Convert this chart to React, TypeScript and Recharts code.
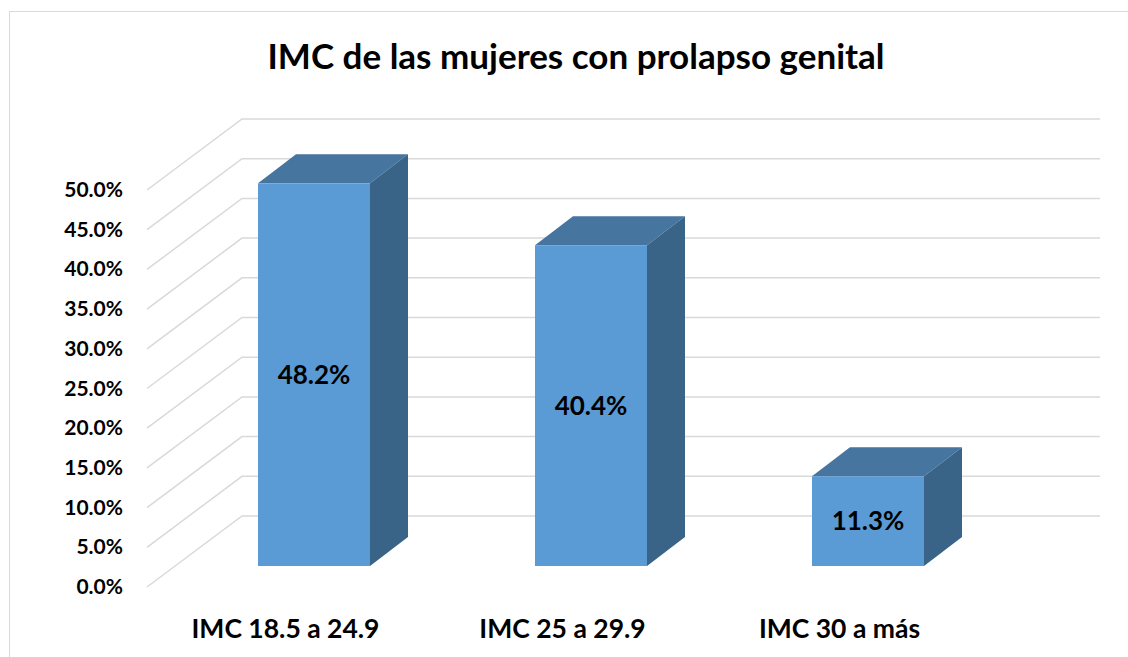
import { BarChart, Bar, XAxis, YAxis, CartesianGrid, LabelList } from "recharts";

const categories = ["IMC 18.5 a 24.9", "IMC 25 a 29.9", "IMC 30 a más"];
const values = [0.482, 0.404, 0.113];
const yTicks = [0, 0.05, 0.1, 0.15, 0.2, 0.25, 0.3, 0.35, 0.4, 0.45, 0.5];

const data = categories.map((name, i) => ({ name, value: values[i] }));

const FONT = "Lato, 'Open Sans', sans-serif";
// depth of the back wall and of the bars (px)
const WALL_DX = 95;
const WALL_DY = 71;
const BAR_OFF_X = 28;
const BAR_OFF_Y = 21;
const BAR_DX = 38;
const BAR_DY = 29;

const pct = (v: number) => (v * 100).toFixed(1) + "%";

function Box3D(props: any) {
  const { x, y, width, height } = props;
  const fx = x + BAR_OFF_X;
  const fy = y - BAR_OFF_Y;
  const w = width;
  const h = height;
  return (
    <g>
      <polygon
        points={`${fx},${fy} ${fx + BAR_DX},${fy - BAR_DY} ${fx + w + BAR_DX},${fy - BAR_DY} ${fx + w},${fy}`}
        fill="#4675A0"
      />
      <polygon
        points={`${fx + w},${fy} ${fx + w + BAR_DX},${fy - BAR_DY} ${fx + w + BAR_DX},${fy + h - BAR_DY} ${fx + w},${fy + h}`}
        fill="#3A6487"
      />
      <rect x={fx} y={fy} width={w} height={h} fill="#5B9BD5" />
    </g>
  );
}

function GridLine(props: any) {
  const { x1, y1, x2 } = props;
  return (
    <path
      key={props.key}
      d={`M${x1},${y1} L${x1 + WALL_DX},${y1 - WALL_DY} L${x2 + 122},${y1 - WALL_DY}`}
      stroke="#d9d9d9"
      strokeWidth={1.5}
      fill="none"
    />
  );
}

function YTick(props: any) {
  const { y, payload } = props;
  return (
    <text x={123} y={y + 7} textAnchor="end" fontFamily={FONT} fontWeight={700} fontSize={21} fill="#000">
      {pct(payload.value)}
    </text>
  );
}

function XTick(props: any) {
  const { x, payload } = props;
  return (
    <text x={x} y={638} textAnchor="middle" fontFamily={FONT} fontWeight={700} fontSize={26.5} fill="#000">
      {payload.value}
    </text>
  );
}

function BarLabel(props: any) {
  const { x, y, width, height, value } = props;
  return (
    <text
      x={x + BAR_OFF_X + width / 2}
      y={y - BAR_OFF_Y + height / 2 + 9}
      textAnchor="middle"
      fontFamily={FONT}
      fontWeight={700}
      fontSize={26}
      fill="#000"
    >
      {pct(value)}
    </text>
  );
}

export default function App() {
  return (
    <div style={{ position: "absolute", left: 0, top: 0, width: 1128, height: 657, overflow: "hidden", background: "#fff" }}>
      <div
        style={{
          position: "absolute",
          left: 9,
          top: 11,
          width: 1200,
          height: 700,
          border: "1px solid #d9d9d9",
        }}
      />
      <div
        style={{
          position: "absolute",
          left: 0,
          top: 34,
          width: 1152,
          textAlign: "center",
          fontFamily: FONT,
          fontWeight: 700,
          fontSize: 35,
          lineHeight: "42px",
          color: "#000",
        }}
      >
        IMC de las mujeres con prolapso genital
      </div>
      <div style={{ position: "absolute", left: 0, top: 0 }}>
        <BarChart width={1128} height={657} data={data} margin={{ top: 190, right: 150, bottom: 40, left: 87 }}>
          <CartesianGrid vertical={false} horizontal={GridLine} />
          <XAxis dataKey="name" axisLine={false} tickLine={false} tick={XTick} height={30} />
          <YAxis
            domain={[0, 0.5]}
            ticks={yTicks}
            axisLine={false}
            tickLine={false}
            tick={YTick}
            width={60}
          />
          <Bar dataKey="value" barSize={112} shape={Box3D} isAnimationActive={false}>
            <LabelList dataKey="value" content={BarLabel} />
          </Bar>
        </BarChart>
      </div>
    </div>
  );
}
